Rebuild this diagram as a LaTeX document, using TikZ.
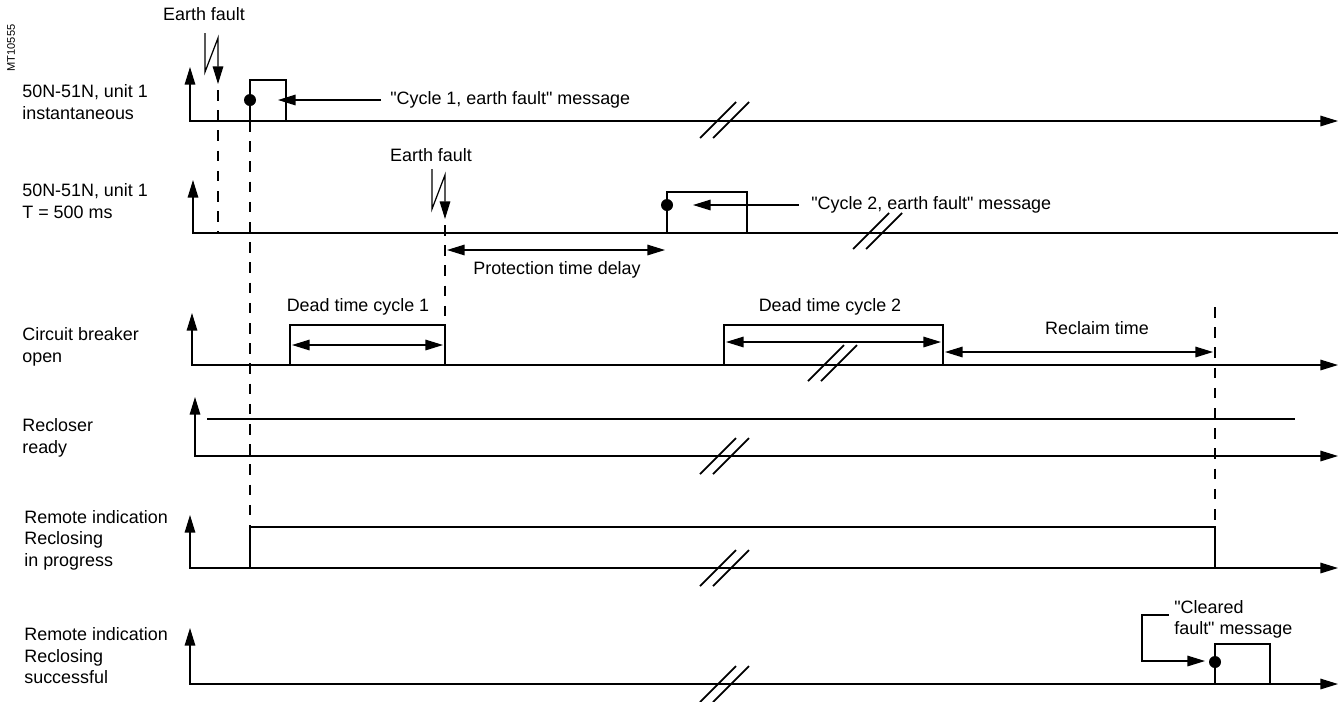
\documentclass[tikz,border=0pt]{standalone}
\usepackage{fontspec}
\setmainfont{Liberation Sans}[Ligatures=TeXOff]
\usepackage{tikz}
\usetikzlibrary{arrows.meta,positioning}

\begin{document}
\begin{tikzpicture}[
    x=0.02cm, y=-0.02cm,
    font=\fontsize{10.2}{12.2}\selectfont,
    axis/.style={line width=0.7pt, {Triangle[length=10pt,width=6pt]}-{Triangle[length=10pt,width=6pt]}},
    axisup/.style={line width=0.7pt, {Triangle[length=10pt,width=6pt]}-},
    signal/.style={line width=1.3pt, line join=miter},
    arrow/.style={line width=0.7pt, -{Triangle[length=10pt,width=6pt]}},
    span/.style={line width=0.7pt, {Triangle[length=10pt,width=6pt]}-{Triangle[length=10pt,width=6pt]}},
    marker/.style={line width=0.7pt, dash pattern=on 6pt off 5.5pt},
    brk/.style={line width=1pt},
    lbl/.style={anchor=west, align=left, inner sep=0pt},
    txt/.style={inner sep=0pt}
]
    \useasboundingbox (0,0) rectangle (1342,701);

    % Reference code
    \node[txt, rotate=90, font=\fontsize{6.3}{7}\selectfont] (ref) at (11,48) {MT10555};

    % Row labels
    \node[lbl] (row1) at (22,102) {50N-51N, unit 1\\instantaneous};
    \node[lbl] (row2) at (22,201) {50N-51N, unit 1\\T = 500 ms};
    \node[lbl] (row3) at (22,347) {Circuit breaker\\open};
    \node[lbl] (row4) at (22,438) {Recloser\\ready};
    \node[lbl] (row5) at (24,540) {Remote indication\\Reclosing\\in progress};
    \node[lbl] (row6) at (24,656) {Remote indication\\Reclosing\\successful};

    % Axes
    \draw[axis] (190,67) -- (190,121) -- (1338,121);
    \draw[axisup] (193,180) -- (193,233) -- (1338,233);
    \draw[axis] (192,313) -- (192,365) -- (1338,365);
    \draw[axis] (195,397) -- (195,456) -- (1338,456);
    \draw[axis] (190,515) -- (190,568) -- (1338,568);
    \draw[axis] (190,628) -- (190,684) -- (1338,684);

    % Signals
    \draw[signal] (190,121) -- (250,121) -- (250,80) -- (286,80) -- (286,121) -- (320,121);
    \draw[signal] (193,233) -- (667,233) -- (667,192) -- (747,192) -- (747,233) -- (1330,233);
    \draw[signal] (192,365) -- (290,365) -- (290,325) -- (445,325) -- (445,365) -- (724,365)
        -- (724,325) -- (943,325) -- (943,365) -- (1295,365);
    \draw[signal] (207,419) -- (1295,419);
    \draw[signal] (190,568) -- (250,568) -- (250,527) -- (1215,527) -- (1215,568) -- (1295,568);
    \draw[signal] (190,684) -- (1215,684) -- (1215,644) -- (1270,644) -- (1270,684) -- (1295,684);

    % Time markers
    \draw[marker] (218,90) -- (218,233);
    \draw[marker] (250,121) -- (250,527);
    \draw[marker] (445,225) -- (445,325);
    \draw[marker] (1215,307) -- (1215,527);

    % Breaks
    \foreach \bx/\by in {718/120, 871/231, 826/363, 718/456, 718/568, 718/684}
        \draw[brk] (\bx-18,\by+18) -- ++(36,-36) (\bx-5,\by+18) -- ++(36,-36);

    % Earth faults
    \node[txt] (fault1) at (204,14) {Earth fault};
    \draw[arrow] (205,33) -- (205,72) -- (218,38) -- (218,84);
    \node[txt] (fault2) at (431,155) {Earth fault};
    \draw[arrow] (432,169) -- (432,209) -- (445,175) -- (445,219);

    % Messages
    \fill (250,100) circle (6);
    \node[txt, anchor=west] (msg1) at (390,100) {"Cycle 1, earth fault" message};
    \coordinate (hit1) at (278,100);
    \draw[arrow] ([xshift=-5pt]msg1.west) -- (hit1);

    \fill (667,205) circle (6);
    \node[txt, anchor=west] (msg2) at (811,205) {"Cycle 2, earth fault" message};
    \coordinate (hit2) at (693,205);
    \draw[arrow] ([xshift=-7pt]msg2.west) -- (hit2);

    \fill (1215,662) circle (6);
    \node[txt, anchor=north west, align=left] (msg3) at (1174,600) {"Cleared\\fault" message};
    \coordinate (hit3) at (1205,661);
    \draw[arrow] ([xshift=-3pt,yshift=-8.5pt]msg3.north west) -| (1142,661) -- (hit3);

    % Durations
    \node[txt] (delay) at (557,270) {Protection time delay};
    \draw[span] (447,250) -- (665,250);
    \node[txt] (dead1) at (358,307) {Dead time cycle 1};
    \draw[span] (292,345) -- (443,345);
    \node[txt] (dead2) at (830,307) {Dead time cycle 2};
    \draw[span] (726,342) -- (941,342);
    \node[txt] (reclaim) at (1097,328) {Reclaim time};
    \draw[span] (945,352) -- (1213,352);
\end{tikzpicture}
\end{document}
